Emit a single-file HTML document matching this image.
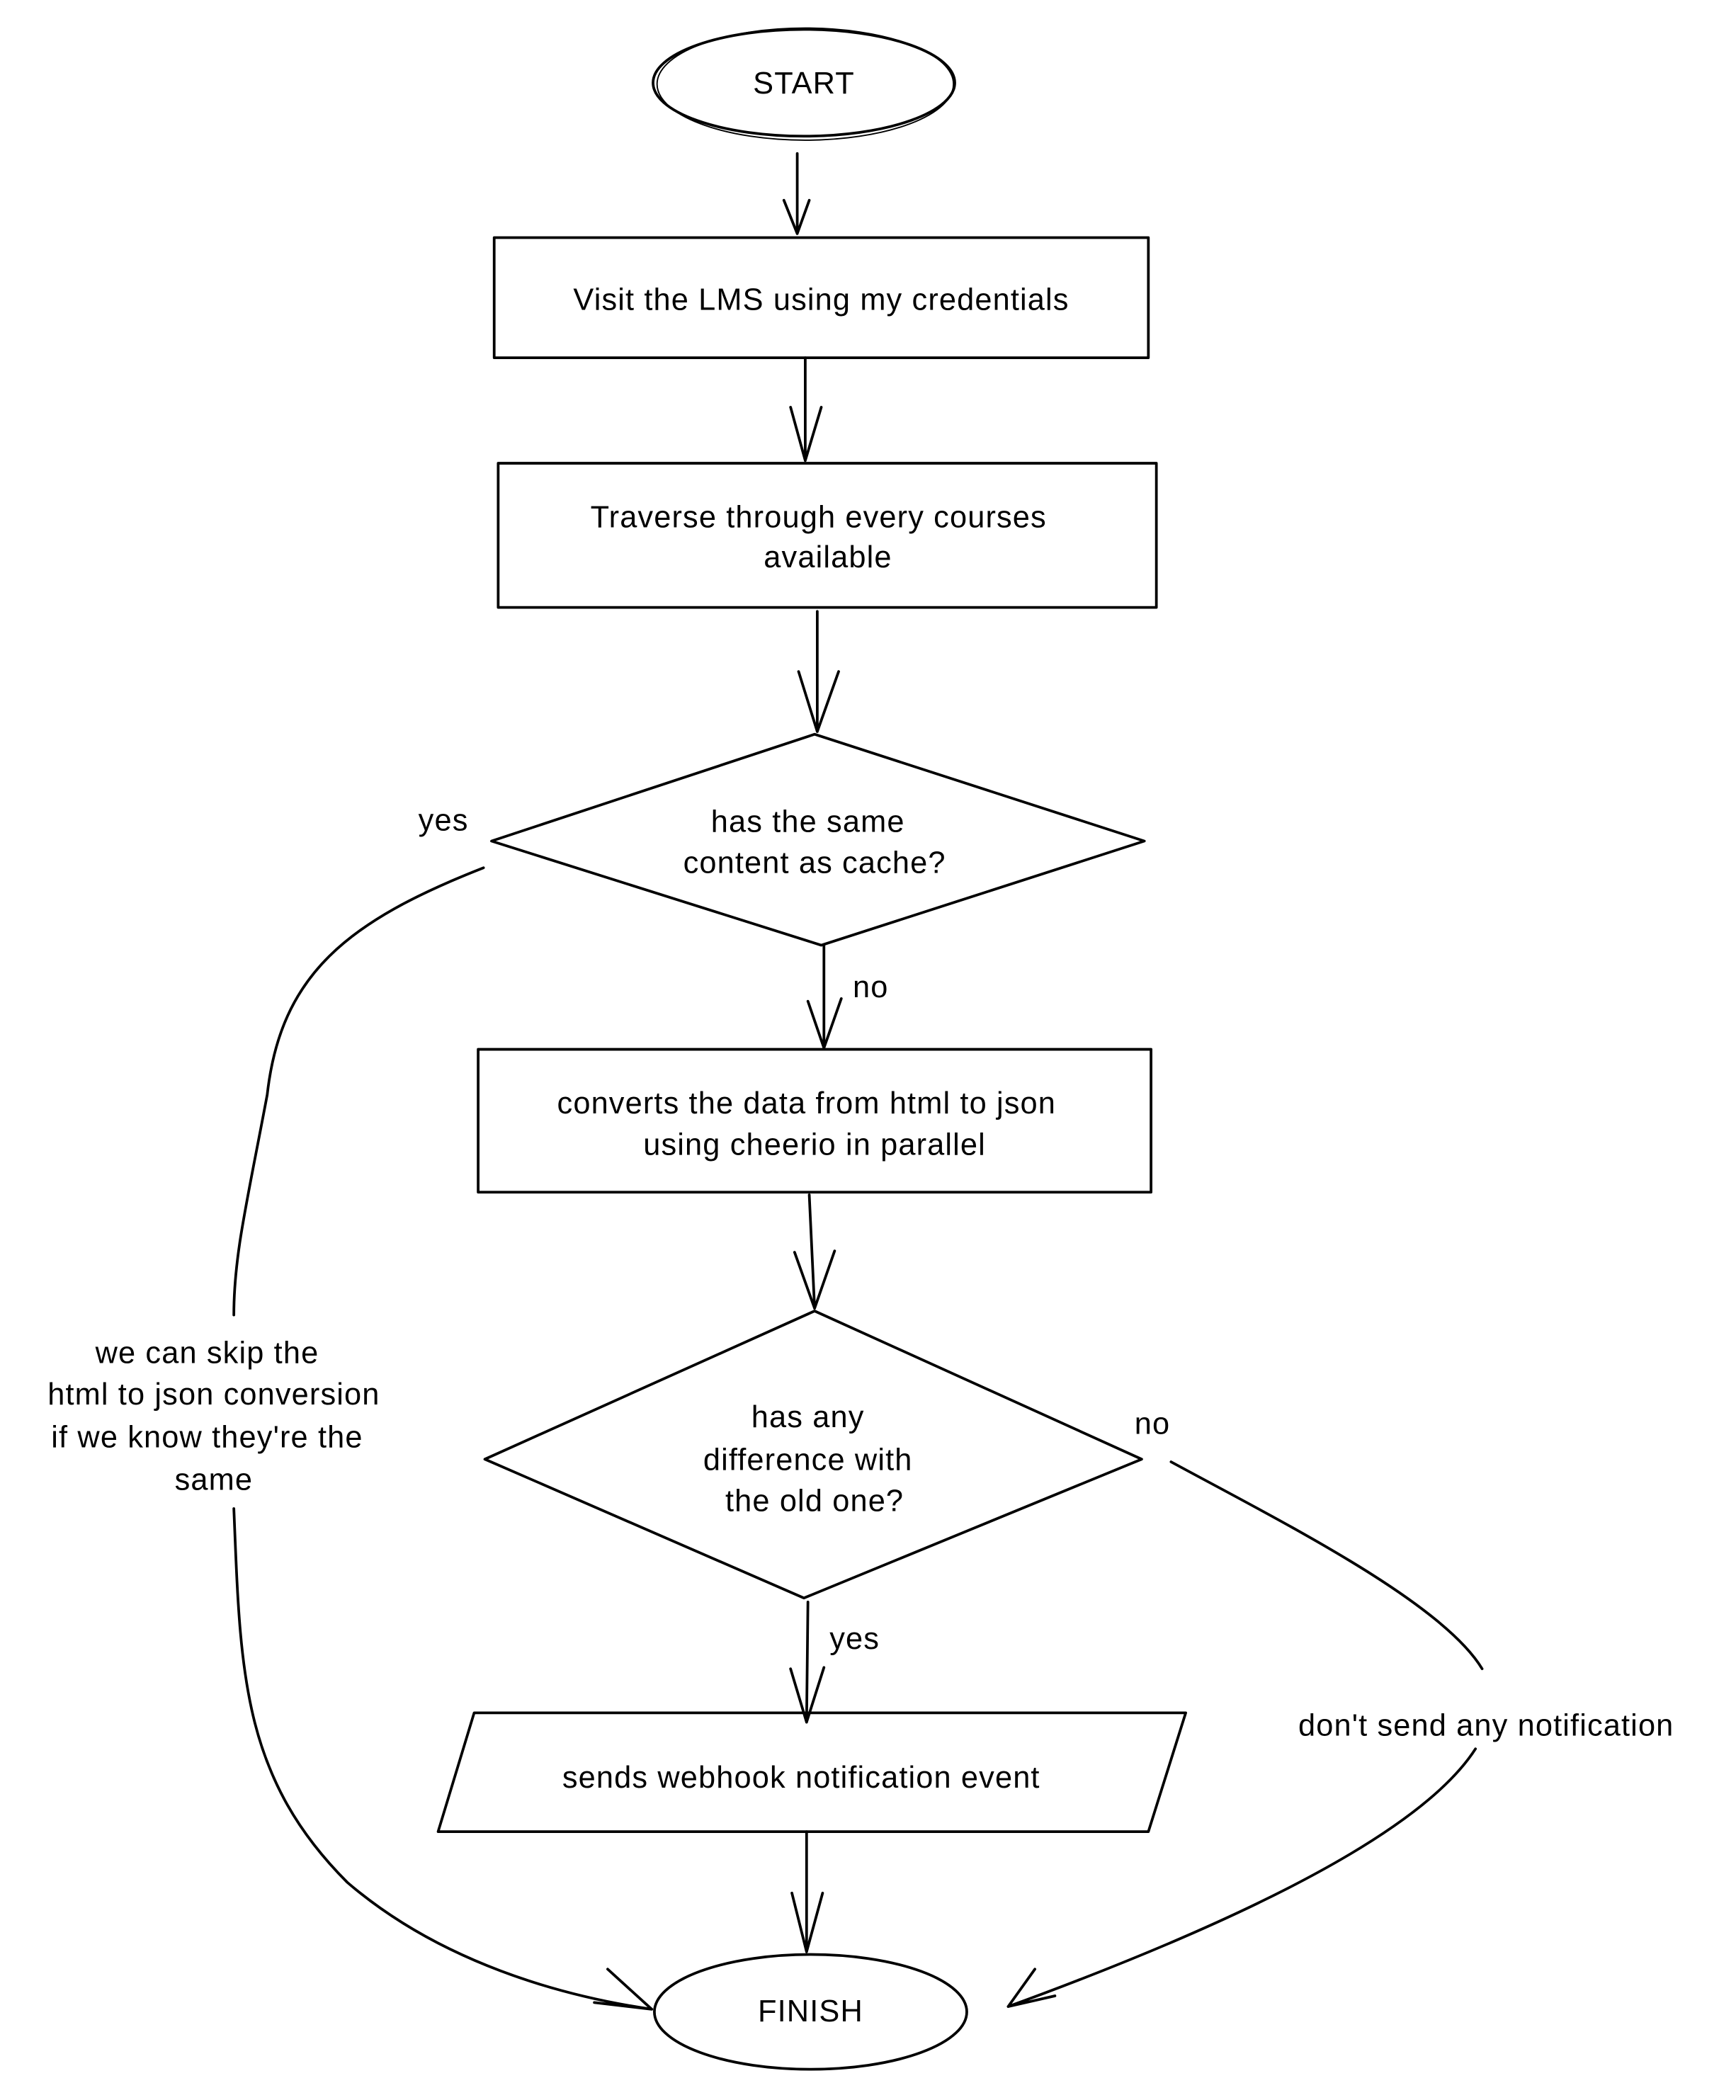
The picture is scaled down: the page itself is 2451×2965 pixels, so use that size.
<!DOCTYPE html>
<html><head><meta charset="utf-8"><style>html,body{margin:0;padding:0;background:#fff}svg{display:block}</style></head>
<body>
<svg width="2451" height="2965" viewBox="0 0 1300 1573" xmlns="http://www.w3.org/2000/svg">
<rect width="1300" height="1573" fill="#fff"/>
<g fill="none" stroke="#000" stroke-width="2" stroke-linecap="round" stroke-linejoin="round">
<ellipse cx="602" cy="62" rx="113" ry="40"/>
<ellipse cx="603" cy="63" rx="111" ry="42" stroke-width="1"/>
<path d="M597 115 L597 175 M587 150 L597 175 L606 150"/>
<rect x="370" y="178" width="490" height="90"/>
<path d="M603 268 L603 345 M592 305 L603 345 L615 305"/>
<rect x="373" y="347" width="493" height="108"/>
<path d="M612 458 L612 548 M598 503 L612 548 L628 503"/>
<path d="M610 550 L857 630 L615 708 L368 630 Z"/>
<path d="M617 708 L617 785 M605 750 L617 785 L630 748"/>
<rect x="358" y="786" width="504" height="107"/>
<path d="M606 895 L610 980 M595 938 L610 980 L625 937"/>
<path d="M610 982 L855 1093 L602 1197 L363 1093 Z"/>
<path d="M605 1200 L604 1290 M592 1250 L604 1290 L617 1249"/>
<path d="M355 1283 L888 1283 L860 1372 L328 1372 Z"/>
<path d="M604 1372 L604 1462 M593 1418 L604 1462 L616 1418"/>
<ellipse cx="607" cy="1507" rx="117" ry="43"/>
<path d="M362 650 C260 690 210 730 200 820 C185 900 175 940 175 985"/>
<path d="M175 1130 C180 1250 180 1330 260 1410 C330 1470 420 1495 488 1505 M455 1475 L488 1505 L445 1500"/>
<path d="M877 1095 C960 1140 1080 1200 1110 1250"/>
<path d="M1105 1310 C1060 1380 900 1450 755 1503 M775 1475 L755 1503 L790 1495"/>
</g>
<g font-family="Liberation Sans, sans-serif" font-size="23" letter-spacing="0.6" fill="#000" text-anchor="middle">
<text x="602" y="70">START</text>
<text x="615" y="232">Visit the LMS using my credentials</text>
<text x="613" y="395">Traverse through every courses</text>
<text x="620" y="425">available</text>
<text x="332" y="622">yes</text>
<text x="605" y="623">has the same</text>
<text x="610" y="654">content as cache?</text>
<text x="652" y="747">no</text>
<text x="604" y="834">converts the data from html to json</text>
<text x="610" y="865">using cheerio in parallel</text>
<text x="605" y="1069">has any</text>
<text x="605" y="1101">difference with</text>
<text x="610" y="1132">the old one?</text>
<text x="863" y="1074">no</text>
<text x="640" y="1235">yes</text>
<text x="600" y="1339">sends webhook notification event</text>
<text x="1113" y="1300">don't send any notification</text>
<text x="607" y="1514">FINISH</text>
<text x="155" y="1021">we can skip the</text>
<text x="160" y="1052">html to json conversion</text>
<text x="155" y="1084">if we know they're the</text>
<text x="160" y="1116">same</text>
</g>
</svg>
</body></html>
